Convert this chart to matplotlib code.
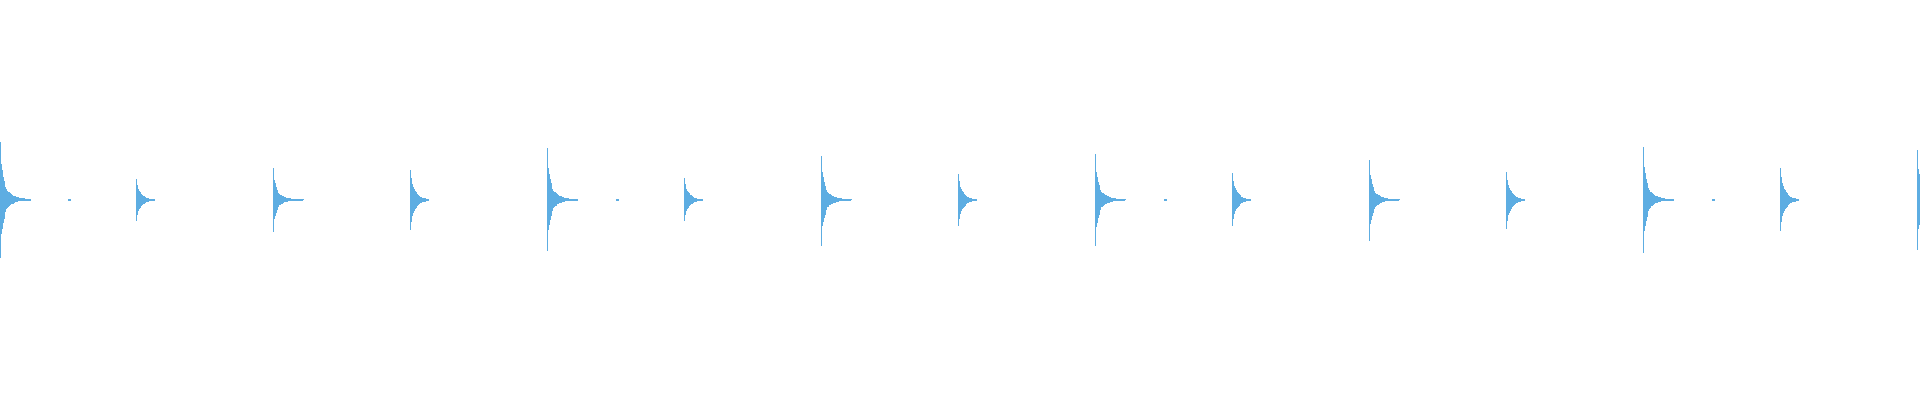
import numpy as np
import matplotlib
matplotlib.use("Agg")
import matplotlib.pyplot as plt

# ---- data ----
n_bins = 1920                 # peak columns across the view
duration = 7.009              # seconds shown

# kick hits: time (s), positive peak, negative peak (normalised amplitude)
kick_times = [0.0, 1.0, 2.0, 3.0, 4.0, 5.0, 6.0, 7.0]
kick_top = [0.292, 0.162, 0.259, 0.222, 0.228, 0.202, 0.264, 0.252]
kick_bottom = [0.292, 0.161, 0.256, 0.228, 0.231, 0.206, 0.266, 0.252]

# snare hits
snare_times = [0.5, 1.5, 2.5, 3.5, 4.5, 5.5, 6.5]
snare_top = [0.106, 0.152, 0.109, 0.129, 0.134, 0.142, 0.159]
snare_bottom = [0.106, 0.151, 0.106, 0.131, 0.131, 0.147, 0.156]

# faint hi-hat ticks
hat_times = [0.25, 2.25, 4.25, 6.25]
hat_amp = [0.004, 0.004, 0.004, 0.004]

# decay envelopes per peak column (fraction of the hit's peak)
kick_env_top = [1.0, 0.62, 0.51, 0.40, 0.32, 0.22, 0.18, 0.16, 0.145, 0.135,
                0.12, 0.10, 0.085, 0.077, 0.068, 0.06, 0.051, 0.048, 0.043, 0.036,
                0.034, 0.032, 0.028, 0.026, 0.026, 0.024, 0.024, 0.022, 0.022, 0.02, 0.012]
kick_env_bottom = [1.0, 0.58, 0.49, 0.40, 0.32, 0.21, 0.16, 0.145, 0.12, 0.11,
                   0.085, 0.077, 0.065, 0.06, 0.055, 0.04, 0.036, 0.034, 0.022, 0.02,
                   0.02, 0.018, 0.018, 0.018, 0.017, 0.017, 0.017, 0.017, 0.017, 0.017, 0.01]
snare_env = [1.0, 0.72, 0.52, 0.43, 0.36, 0.30, 0.25, 0.21, 0.17, 0.13,
             0.11, 0.09, 0.075, 0.065, 0.055, 0.05, 0.045, 0.04, 0.03]
hat_env = [1.0, 1.0, 1.0]

color = "#5DADE2"

# ---- build peak columns ----
dt = duration / n_bins
top = np.zeros(n_bins)
bottom = np.zeros(n_bins)


def add_hit(t, a_top, a_bot, env_top, env_bot):
    start = int(np.floor(t / dt + 1e-9))
    for k, (et, eb) in enumerate(zip(env_top, env_bot)):
        i = start + k
        if 0 <= i < n_bins:
            top[i] = max(top[i], a_top * et)
            bottom[i] = max(bottom[i], a_bot * eb)


for t, a, b in zip(kick_times, kick_top, kick_bottom):
    add_hit(t, a, b, kick_env_top, kick_env_bottom)
for t, a, b in zip(snare_times, snare_top, snare_bottom):
    add_hit(t, a, b, snare_env, snare_env)
for t, a in zip(hat_times, hat_amp):
    add_hit(t, a, a, hat_env, hat_env)

x = np.arange(n_bins) * dt
mask = (top + bottom) > 0

fig = plt.figure(figsize=(19.2, 4.0), dpi=100)
ax = fig.add_axes([0, 0, 1, 1])
ax.bar(x[mask], np.maximum((top + bottom)[mask], 0.008), bottom=-bottom[mask], width=dt,
       align="edge", color=color, linewidth=0, antialiased=False)
ax.set_xlim(0, duration)
ax.set_ylim(-1, 1)
ax.axis("off")
fig.savefig("out.png", dpi=100, facecolor="white")
